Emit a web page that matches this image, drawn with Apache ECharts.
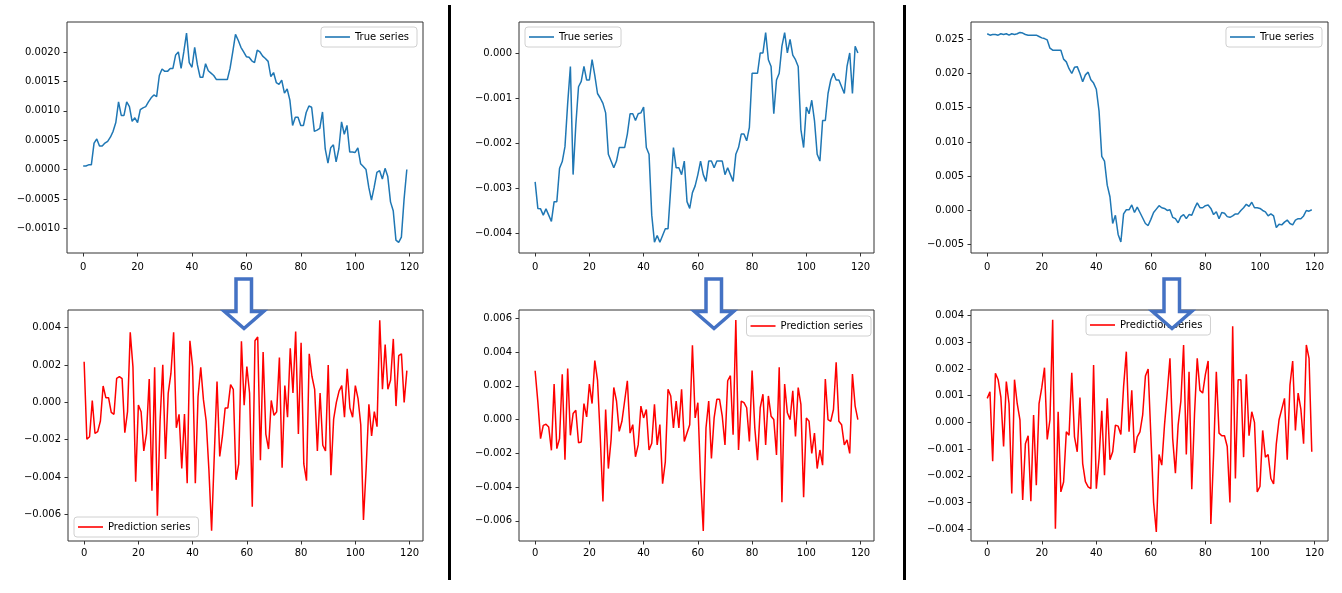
<!DOCTYPE html>
<html>
<head>
<meta charset="utf-8">
<script src="https://cdn.jsdelivr.net/npm/echarts@6/dist/echarts.min.js"></script>
<style>
html,body{margin:0;padding:0;background:#fff;}
#c{width:1342px;height:593px;}
</style>
</head>
<body>
<div id="c"></div>
<script>
// ---------- data ----------
const xTicks = [0, 20, 40, 60, 80, 100, 120];

const trueA = [0.00006,0.00006,0.00008,0.00008,0.00045,0.00052,0.0004,0.0004,0.00045,0.00048,
 0.00055,0.00065,0.0008,0.00115,0.00092,0.00092,0.00115,0.00107,0.00082,0.00088,
 0.0008,0.00102,0.00105,0.00107,0.00115,0.00122,0.00127,0.00124,0.0016,0.00171,
 0.00167,0.00167,0.00172,0.00172,0.00195,0.002,0.00172,0.002,0.00232,0.00182,
 0.00174,0.00208,0.00178,0.00157,0.00157,0.0018,0.00168,0.00164,0.0016,0.00153,
 0.00153,0.00153,0.00153,0.00153,0.00172,0.002,0.0023,0.0022,0.00208,0.002,
 0.00192,0.00191,0.00185,0.00182,0.00203,0.002,0.00193,0.00189,0.00184,0.00158,
 0.00165,0.00148,0.00145,0.00152,0.0013,0.00137,0.00118,0.00075,0.00089,0.00089,
 0.00075,0.00075,0.00097,0.00108,0.00106,0.00065,0.00067,0.0007,0.00098,0.00035,
 0.00011,0.00037,0.00042,0.00013,0.00035,0.00081,0.0006,0.00075,0.0003,0.0003,
 0.00029,0.00037,0.0001,0.00005,0.0,-0.0003,-0.00052,-0.0003,-0.00005,-0.00002,
 -0.00016,0.00002,-0.00012,-0.00055,-0.0007,-0.0012,-0.00124,-0.00115,-0.0005,0.0];

const trueB = [-0.00286,-0.00345,-0.00346,-0.0036,-0.00346,-0.0036,-0.00374,-0.0033,-0.0033,-0.00256,
 -0.00241,-0.00208,-0.00112,-0.0003,-0.0027,-0.0016,-0.00075,-0.00063,-0.0003,-0.0006,
 -0.0006,-0.00015,-0.0005,-0.0009,-0.001,-0.00112,-0.00133,-0.00225,-0.0024,-0.00255,
 -0.0024,-0.0021,-0.0021,-0.0021,-0.0018,-0.00135,-0.00135,-0.0015,-0.00135,-0.00133,
 -0.0012,-0.0021,-0.00225,-0.0036,-0.0042,-0.00405,-0.0042,-0.00405,-0.0039,-0.0039,
 -0.003,-0.0021,-0.00255,-0.00255,-0.0027,-0.0024,-0.0033,-0.00345,-0.0031,-0.00295,
 -0.0027,-0.0024,-0.0027,-0.00285,-0.0024,-0.0024,-0.00255,-0.0024,-0.0024,-0.0024,
 -0.0027,-0.00255,-0.0027,-0.00285,-0.00225,-0.0021,-0.0018,-0.0018,-0.00195,-0.00165,
 -0.00045,-0.00045,-0.00045,0.0,0.0,0.00045,-0.00015,-0.0003,-0.00135,-0.0006,
 -0.00045,0.00015,0.00045,0.0,0.0003,-0.00005,-0.00015,-0.0003,-0.0017,-0.0021,
 -0.0012,-0.00135,-0.00105,-0.0015,-0.00225,-0.0024,-0.0015,-0.0015,-0.0009,-0.0006,
 -0.00045,-0.0006,-0.0006,-0.00075,-0.0009,-0.0003,0.0,-0.0009,0.00015,0.0];

const trueC = [0.0258,0.0256,0.0257,0.0257,0.0256,0.0258,0.0257,0.0258,0.0256,0.0258,
 0.0257,0.0258,0.026,0.0259,0.0257,0.0256,0.0256,0.0256,0.0256,0.0254,
 0.0252,0.0251,0.0249,0.0237,0.0234,0.0234,0.0234,0.0234,0.0221,0.0217,
 0.0207,0.02,0.0209,0.021,0.02,0.0188,0.0198,0.0202,0.0191,0.0186,
 0.0177,0.0145,0.0079,0.0072,0.0037,0.002,-0.0019,-0.0007,-0.0035,-0.0046,
 -0.0005,0.0001,0.0001,0.0008,-0.0003,0.0005,-0.0003,-0.0011,-0.0019,-0.0022,
 -0.0013,-0.0003,0.0002,0.0007,0.0004,0.0003,0.0,0.0001,-0.001,-0.0012,
 -0.0018,-0.0009,-0.0006,-0.0012,-0.0006,-0.0007,0.0003,0.0011,0.0004,0.0004,
 0.0007,0.0008,0.0003,-0.0006,-0.0002,-0.0012,-0.0003,-0.0004,-0.0009,-0.001,
 -0.0008,-0.0005,-0.0005,0.0,0.0004,0.0009,0.0006,0.0012,0.0004,0.0004,
 0.0003,0.0,-0.0002,-0.0008,-0.0005,-0.0008,-0.0025,-0.002,-0.0021,-0.0017,
 -0.0014,-0.0019,-0.0021,-0.0014,-0.0012,-0.0012,-0.0008,0.0,-0.0001,0.0001];

const predA = [0.00218,-0.00198,-0.00184,0.0001,-0.00166,-0.00157,-0.001,0.00088,0.00025,0.00025,
 -0.00054,-0.00064,0.00129,0.00138,0.00127,-0.00162,-0.0005,0.00375,0.0019,-0.00425,
 -0.00014,-0.0005,-0.0026,-0.00166,0.00125,-0.00473,0.00188,-0.00607,-0.001,0.00202,
 -0.00304,0.00048,0.00155,0.00375,-0.00136,-0.00064,-0.00354,-0.00063,-0.00434,0.0033,
 0.0019,-0.00434,0.0003,0.00188,0.00013,-0.001,-0.0036,-0.00688,-0.0028,0.00112,
 -0.0029,-0.0018,-0.0003,-0.0003,0.00095,0.0007,-0.00415,-0.0033,0.00328,-0.00015,
 0.00192,0.0005,-0.0056,0.0033,0.0035,-0.0031,0.0027,-0.0017,-0.0025,0.0001,
 -0.0007,-0.0005,0.0024,-0.0035,0.0009,-0.0008,0.0029,0.0005,0.0038,-0.0017,
 0.0032,-0.0033,-0.0042,0.0026,0.0014,0.0007,-0.0026,0.0005,-0.0023,-0.0026,
 0.002,-0.0039,-0.0009,0.0,0.0006,0.0009,-0.0008,0.0018,-0.0003,-0.0008,
 0.0009,0.0002,-0.0012,-0.0063,-0.0035,-0.0001,-0.0018,-0.0005,-0.0013,0.0044,
 0.0007,0.0031,0.0007,0.0012,0.0034,-0.0002,0.0025,0.0026,0.0,0.0017];

const predB = [0.00289,0.00105,-0.00113,-0.00034,-0.00028,-0.00044,-0.00182,0.0021,-0.00172,-0.00113,
 0.00269,-0.00238,0.00303,-0.00093,0.00036,0.00055,-0.00137,-0.00133,0.00095,0.00016,
 0.0021,0.00095,0.00349,0.00234,-0.001,-0.00485,0.0006,-0.0029,-0.0012,0.0019,
 0.0011,-0.0007,-0.0001,0.0011,0.0023,-0.0008,-0.0003,-0.0022,-0.0015,0.0008,
 0.0001,0.0006,-0.0018,-0.0014,0.0009,-0.0015,-0.0003,-0.0038,-0.0025,0.0018,
 0.0014,-0.0005,0.0011,-0.0005,0.0018,-0.0013,-0.0008,-0.0003,0.0044,0.0001,
 0.001,-0.0035,-0.0066,-0.0005,0.0011,-0.0023,0.0001,0.0012,0.0012,0.0002,
 -0.0015,0.0023,0.0026,-0.0009,0.0059,-0.0018,0.0011,0.001,0.0007,-0.0013,
 0.0029,-0.0005,-0.0024,0.0007,0.0015,-0.0015,0.0014,0.0002,0.0,-0.0021,
 0.0031,-0.0049,0.0021,0.0004,0.0,0.0017,-0.001,0.0019,0.0009,-0.0046,
 0.0001,-0.0001,-0.002,-0.0008,-0.0029,-0.0018,-0.0027,0.0024,0.0,-0.0001,
 0.0006,0.0034,-0.0001,-0.0003,-0.0015,-0.0012,-0.002,0.0027,0.0008,0.0];

const predC = [0.0009,0.00115,-0.00145,0.00184,0.0016,0.00095,-0.0009,0.00153,0.0007,-0.00266,
 0.0016,0.0007,0.0001,-0.0029,-0.0008,-0.0005,-0.00295,0.00028,-0.00235,0.0007,
 0.0013,0.00205,-0.00064,0.0001,0.00384,-0.00398,0.0004,-0.0026,-0.00223,-0.00035,
 -0.00048,0.00186,-0.00054,-0.0011,0.00093,-0.00154,-0.00222,-0.00241,-0.00248,0.00215,
 -0.00248,-0.00135,0.00044,-0.00198,0.0009,-0.0014,-0.0011,-0.0001,-0.00014,-0.00045,
 0.00134,0.00265,-0.00035,0.0012,-0.00114,-0.00054,-0.00035,0.00028,0.00174,0.002,
 -0.0005,-0.003,-0.0041,-0.0012,-0.0016,-0.0001,0.0011,0.0024,-0.0006,-0.0019,
 -0.0001,0.0008,0.0029,-0.0012,0.0019,-0.0025,0.0003,0.0024,0.0012,0.0011,
 0.0018,0.0023,-0.0038,-0.0012,0.0019,-0.0004,-0.0005,-0.0005,-0.0009,-0.003,
 0.0036,-0.0021,0.0016,0.0016,-0.0013,0.0018,-0.0005,0.0004,0.0,-0.0026,
 -0.0024,-0.0003,-0.0013,-0.0012,-0.0021,-0.0023,-0.0008,0.0001,0.0005,0.0009,
 -0.0014,0.0014,0.0023,-0.0003,0.0011,0.0005,-0.0008,0.0029,0.0024,-0.0011];

const yTicksTrueA = [-0.001, -0.0005, 0, 0.0005, 0.001, 0.0015, 0.002];
const yTicksTrueB = [-0.004, -0.003, -0.002, -0.001, 0];
const yTicksTrueC = [-0.005, 0, 0.005, 0.01, 0.015, 0.02, 0.025];
const yTicksPredA = [-0.006, -0.004, -0.002, 0, 0.002, 0.004];
const yTicksPredB = [-0.006, -0.004, -0.002, 0, 0.002, 0.004, 0.006];
const yTicksPredC = [-0.004, -0.003, -0.002, -0.001, 0, 0.001, 0.002, 0.003, 0.004];

const seriesNames = ['True series', 'Prediction series'];

// ---------- layout ----------
const FONT = 'DejaVu Sans';
const panels = [
  {vals: trueA, name: seriesNames[0], color: '#1f77b4', ticks: yTicksTrueA, dec: 4, yr: [-0.00142, 0.00251], xm: 9,
   grid: {left: 67, top: 22, width: 356, height: 231}, legend: {right: 925, top: 27}},
  {vals: trueB, name: seriesNames[0], color: '#1f77b4', ticks: yTicksTrueB, dec: 3, yr: [-0.00444, 0.000687], xm: 9,
   grid: {left: 519, top: 22, width: 355, height: 231}, legend: {left: 525, top: 27}},
  {vals: trueC, name: seriesNames[0], color: '#1f77b4', ticks: yTicksTrueC, dec: 3, yr: [-0.00621, 0.02752], xm: 9,
   grid: {left: 971, top: 22, width: 357, height: 231}, legend: {right: 20, top: 27}},
  {vals: predA, name: seriesNames[1], color: '#ff0000', ticks: yTicksPredA, dec: 3, yr: [-0.00743, 0.00495], xm: 7,
   grid: {left: 68, top: 310, width: 355, height: 231}, legend: {left: 74, top: 517}},
  {vals: predB, name: seriesNames[1], color: '#ff0000', ticks: yTicksPredB, dec: 3, yr: [-0.00719, 0.00649], xm: 7,
   grid: {left: 519, top: 310, width: 355, height: 231}, legend: {right: 471, top: 316}},
  {vals: predC, name: seriesNames[1], color: '#ff0000', ticks: yTicksPredC, dec: 3, yr: [-0.00444, 0.00421], xm: 7,
   grid: {left: 971, top: 310, width: 357, height: 231}, legend: {left: 1086, top: 315}}
];

const grids = [], xAxes = [], yAxes = [], series = [], legends = [];
panels.forEach((p, k) => {
  grids.push(Object.assign({show: true, borderColor: '#333', borderWidth: 1, backgroundColor: '#fff',
    containLabel: false, outerBoundsMode: 'none'}, p.grid));
  xAxes.push({
    type: 'value', gridIndex: k, min: -5.95, max: 124.95,
    splitLine: {show: false},
    axisLine: {show: false, onZero: false},
    axisTick: {show: true, length: 3.5, customValues: xTicks, lineStyle: {color: '#333', width: 1}},
    axisLabel: {customValues: xTicks, fontSize: 10, color: '#000', margin: p.xm, fontFamily: FONT}
  });
  const dec = p.dec;
  yAxes.push({
    type: 'value', gridIndex: k, min: p.yr[0], max: p.yr[1],
    splitLine: {show: false},
    axisLine: {show: false, onZero: false},
    axisTick: {show: true, length: 3.5, customValues: p.ticks, lineStyle: {color: '#333', width: 1}},
    axisLabel: {customValues: p.ticks, fontSize: 10, color: '#000', margin: 7, fontFamily: FONT,
      formatter: v => v.toFixed(dec).replace('-', '\u2212')}
  });
  series.push({
    type: 'line', name: p.name, xAxisIndex: k, yAxisIndex: k,
    data: p.vals.map((v, i) => [i, v]),
    symbol: 'none', showSymbol: false, animation: false,
    lineStyle: {width: 1.5, color: p.color}, itemStyle: {color: p.color}
  });
  legends.push(Object.assign({
    data: [{name: p.name, icon: 'rect'}], orient: 'horizontal', selectedMode: false,
    padding: [4, 8, 4, 4], itemWidth: 25, itemHeight: 1.6,
    itemStyle: {color: p.color},
    borderColor: '#d0d0d0', borderWidth: 1, borderRadius: 3,
    backgroundColor: 'rgba(255,255,255,0.85)',
    textStyle: {fontSize: 10, color: '#000', fontFamily: FONT, lineHeight: 12}
  }, p.legend));
});

// arrows and separators (decoration)
const arrowCenters = [244, 714, 1172];
const graphics = [];
arrowCenters.forEach(cx => {
  graphics.push({
    type: 'polygon', z: 100,
    shape: {points: [[cx - 8, 279], [cx + 7.5, 279], [cx + 7.5, 311.5], [cx + 19.5, 311.5],
                     [cx, 328.5], [cx - 19.5, 311.5], [cx - 8, 311.5]]},
    style: {fill: '#fff', stroke: '#4472C4', lineWidth: 3.5, lineJoin: 'miter'}
  });
});
graphics.push({type: 'rect', z: 100, shape: {x: 448, y: 5, width: 3, height: 575}, style: {fill: '#000'}});
graphics.push({type: 'rect', z: 100, shape: {x: 903, y: 5, width: 3, height: 575}, style: {fill: '#000'}});

const chart = echarts.init(document.getElementById('c'), null, {renderer: 'canvas'});
chart.setOption({
  backgroundColor: '#fff',
  animation: false,
  grid: grids, xAxis: xAxes, yAxis: yAxes, series: series, legend: legends,
  graphic: graphics
});
</script>
</body>
</html>
